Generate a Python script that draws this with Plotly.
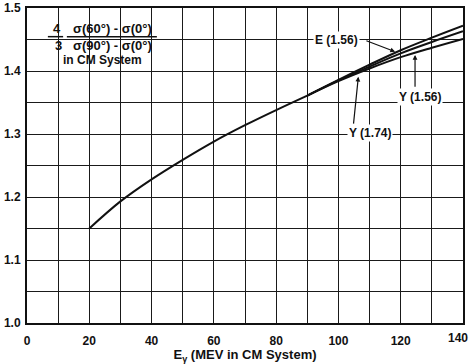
import plotly.graph_objects as go

# ---- data ----
x_common = [20, 30, 40, 50, 60, 70, 80, 90]
y_common = [1.150, 1.193, 1.228, 1.259, 1.288, 1.314, 1.338, 1.361]

x_split = [90, 100, 110, 120, 130, 140]
y_E156 = [1.361, 1.386, 1.410, 1.433, 1.453, 1.472]
y_Y156 = [1.361, 1.385, 1.407, 1.428, 1.446, 1.463]
y_Y174 = [1.361, 1.384, 1.404, 1.422, 1.437, 1.451]

x_ticks = list(range(0, 141, 10))
x_ticktext = [str(v) if (v % 20 == 0 and v < 140) else "" for v in x_ticks]
x_last_label = "140"
y_ticks = [round(1.0 + 0.05 * i, 2) for i in range(11)]
y_ticktext = [f"{v:.1f}" if round(v * 100) % 10 == 0 else "" for v in y_ticks]

FONT = "Liberation Sans"
ink = "#111111"

fig = go.Figure()
line = dict(color=ink, width=2)
fig.add_trace(go.Scatter(x=x_common, y=y_common, mode="lines", line=dict(shape="spline", **line)))
for ys in (y_E156, y_Y156, y_Y174):
    fig.add_trace(go.Scatter(x=x_split, y=ys, mode="lines", line=dict(shape="spline", **line)))

# white box behind the formula
fig.add_shape(type="rect", x0=0.3, x1=43.5, y0=1.401, y1=1.499, fillcolor="white",
              line=dict(width=0), layer="below")

# formula
tf = dict(family=FONT, size=13, color=ink, weight="bold")
fig.add_annotation(x=9.6, y=1.468, text="4", showarrow=False, font=tf)
fig.add_annotation(x=10.0, y=1.441, text="3", showarrow=False, font=tf)
fig.add_annotation(x=27.3, y=1.468, text="σ(60°) - σ(0°)", showarrow=False, font=tf)
fig.add_annotation(x=27.3, y=1.440, text="σ(90°) - σ(0°)", showarrow=False, font=tf)
fig.add_annotation(x=24.4, y=1.4175, text="in CM System", showarrow=False,
                   font=dict(family=FONT, size=12, color=ink, weight="bold"))
fig.add_shape(type="line", x0=6.7, x1=11.6, y0=1.4545, y1=1.4545, line=dict(color=ink, width=1.5))
fig.add_shape(type="line", x0=12.8, x1=41.7, y0=1.4545, y1=1.4545, line=dict(color=ink, width=1.5))

# curve labels
lf = dict(family=FONT, size=12, color=ink, weight="bold")
arr = dict(showarrow=True, arrowhead=2, arrowsize=0.8, arrowwidth=1.2, arrowcolor=ink,
           axref="x", ayref="y", text="")
fig.add_annotation(x=99.4, y=1.449, text="E (1.56)", showarrow=False, font=lf, bgcolor="white")
fig.add_annotation(x=118.2, y=1.4306, ax=108.5, ay=1.449, **arr)
fig.add_annotation(x=126.2, y=1.3587, text="Y (1.56)", showarrow=False, font=lf, bgcolor="white")
fig.add_annotation(x=124.6, y=1.4254, ax=124.6, ay=1.3725, **arr)
fig.add_annotation(x=110.0, y=1.302, text="Y (1.74)", showarrow=False, font=lf, bgcolor="white")
fig.add_annotation(x=106.4, y=1.391, ax=104.8, ay=1.314, **arr)

# last x tick label, nudged so it stays inside the page
fig.add_annotation(x=140, y=0, yref="paper", yanchor="top", xanchor="right", xshift=7, yshift=-6,
                   text=x_last_label, showarrow=False,
                   font=dict(family=FONT, size=12, color=ink, weight="bold"))

axis_common = dict(showgrid=True, gridcolor="#1a1a1a", gridwidth=1.2, showline=True, linecolor=ink,
                   linewidth=2, mirror=True, ticks="", zeroline=False, automargin=False,
                   ticklabeloverflow="allow",
                   tickfont=dict(family=FONT, size=12, color=ink, weight="bold"))
fig.update_xaxes(range=[0, 140], tickvals=x_ticks, ticktext=x_ticktext, ticklabelstandoff=6,
                 title=dict(text="E<sub>γ</sub> (MEV in CM System)",
                            font=dict(family=FONT, size=13, color=ink, weight="bold")),
                 **axis_common)
fig.update_yaxes(range=[1.0, 1.5], tickvals=y_ticks, ticktext=y_ticktext, ticklabelstandoff=2,
                 **axis_common)

fig.update_layout(width=471, height=364, margin=dict(l=27, r=8, t=8, b=41),
                  paper_bgcolor="white", plot_bgcolor="white", showlegend=False,
                  font=dict(family=FONT, color=ink))
fig.write_html("out.html")
